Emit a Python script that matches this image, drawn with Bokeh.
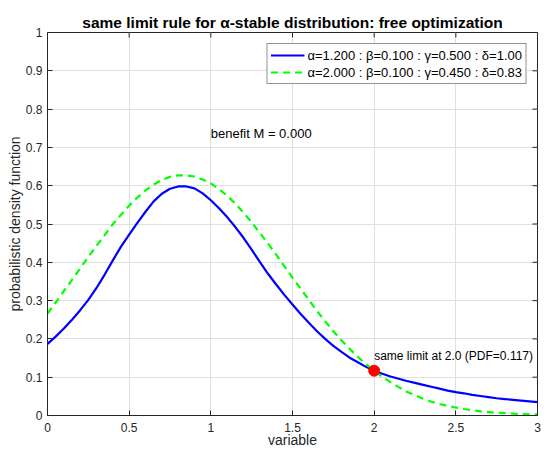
import math
from bokeh.plotting import figure
from bokeh.models import Range1d, FixedTicker, Label, Legend, LegendItem
from bokeh.embed import file_html
from bokeh.resources import INLINE

# sample positions along the variable axis
x_vals = [0.00, 0.05, 0.10, 0.15, 0.20, 0.25, 0.30, 0.35, 0.40, 0.45,
          0.50, 0.55, 0.60, 0.65, 0.70, 0.75, 0.80, 0.85, 0.90, 0.95,
          1.00, 1.05, 1.10, 1.15, 1.20, 1.25, 1.30, 1.35, 1.40, 1.45,
          1.50, 1.55, 1.60, 1.65, 1.70, 1.75, 1.80, 1.85, 1.90, 1.95,
          2.00, 2.05, 2.10, 2.15, 2.20, 2.25, 2.30, 2.35, 2.40, 2.45,
          2.50, 2.55, 2.60, 2.65, 2.70, 2.75, 2.80, 2.85, 2.90, 2.95, 3.00]

# alpha = 1.2 stable density
pdf_alpha12 = [0.187, 0.206, 0.227, 0.250, 0.275, 0.302, 0.333, 0.368, 0.405, 0.441,
               0.472, 0.503, 0.532, 0.559, 0.579, 0.592, 0.598, 0.598, 0.593, 0.580,
               0.562, 0.541, 0.518, 0.492, 0.464, 0.433, 0.401, 0.370, 0.342, 0.315,
               0.290, 0.265, 0.242, 0.220, 0.200, 0.182, 0.166, 0.151, 0.139, 0.127,
               0.117, 0.109, 0.102, 0.096, 0.090, 0.085, 0.080, 0.075, 0.070, 0.065,
               0.061, 0.058, 0.054, 0.051, 0.048, 0.045, 0.043, 0.041, 0.039, 0.037, 0.035]

# alpha = 2.0 stable (gaussian) density
pdf_alpha20 = [0.266, 0.295, 0.325, 0.354, 0.384, 0.414, 0.443, 0.471, 0.499, 0.524,
               0.548, 0.569, 0.588, 0.603, 0.615, 0.623, 0.627, 0.627, 0.624, 0.616,
               0.606, 0.591, 0.574, 0.553, 0.530, 0.504, 0.477, 0.449, 0.420, 0.390,
               0.360, 0.331, 0.302, 0.273, 0.246, 0.220, 0.196, 0.174, 0.153, 0.134,
               0.117, 0.101, 0.087, 0.074, 0.062, 0.053, 0.044, 0.036, 0.030, 0.025,
               0.021, 0.017, 0.014, 0.011, 0.009, 0.007, 0.006, 0.005, 0.004, 0.003, 0.003]

limit_x = 2.0
limit_pdf = 0.117
benefit = 0.000

legend_labels = ["\u03b1=1.200 : \u03b2=0.100 : \u03b3=0.500 : \u03b4=1.00",
                 "\u03b1=2.000 : \u03b2=0.100 : \u03b3=0.450 : \u03b4=0.83"]

x_ticks = [0, 0.5, 1, 1.5, 2, 2.5, 3]
x_tick_labels = ["0", "0.5", "1", "1.5", "2", "2.5", "3"]
y_ticks = [0, 0.1, 0.2, 0.3, 0.4, 0.5, 0.6, 0.7, 0.8, 0.9, 1]
y_tick_labels = ["0", "0.1", "0.2", "0.3", "0.4", "0.5", "0.6", "0.7", "0.8", "0.9", "1"]

FONT = "Liberation Sans"
AX_COLOR = "#262626"

p = figure(width=548, height=450, output_backend="svg", toolbar_location=None,
           x_range=Range1d(0, 3), y_range=Range1d(0, 1),
           min_border_left=47, min_border_right=11, min_border_top=32, min_border_bottom=30,
           x_axis_label="variable", y_axis_label="probabilistic density function")
p.background_fill_color = "white"
p.border_fill_color = "white"
p.outline_line_color = AX_COLOR
p.outline_line_width = 1

p.title.text = "same limit rule for \u03b1-stable distribution: free optimization"
p.title.align = "center"
p.title.text_font = FONT
p.title.text_font_size = "15.5px"
p.title.text_font_style = "bold"
p.title.text_color = "black"
p.title.standoff = 4

for ax, ticks, labels, standoff, label_standoff in ((p.xaxis[0], x_ticks, x_tick_labels, 7, -3),
                                                    (p.yaxis[0], y_ticks, y_tick_labels, 5, 0)):
    ax.ticker = FixedTicker(ticks=ticks)
    ax.major_label_overrides = {t: l for t, l in zip(ticks, labels)}
    ax.major_tick_in = 5
    ax.major_tick_out = 0
    ax.minor_tick_line_color = None
    ax.axis_line_color = AX_COLOR
    ax.major_tick_line_color = AX_COLOR
    ax.major_label_text_font = FONT
    ax.major_label_text_font_size = "12px"
    ax.major_label_text_color = AX_COLOR
    ax.major_label_standoff = standoff
    ax.axis_label_text_font = FONT
    ax.axis_label_text_font_size = "14px"
    ax.axis_label_text_font_style = "normal"
    ax.axis_label_text_color = AX_COLOR
    ax.axis_label_standoff = label_standoff

p.xgrid.ticker = FixedTicker(ticks=x_ticks)
p.ygrid.ticker = FixedTicker(ticks=y_ticks)
p.grid.grid_line_color = "#dfdfdf"
p.grid.grid_line_width = 1

# inward tick marks along the top and right edges of the box
p.ray(x=x_ticks, y=[1] * len(x_ticks), length=5, length_units="screen",
      angle=-math.pi / 2, line_color=AX_COLOR, line_width=1)
p.ray(x=[3] * len(y_ticks), y=y_ticks, length=5, length_units="screen",
      angle=math.pi, line_color=AX_COLOR, line_width=1)

r1 = p.line(x_vals, pdf_alpha12, line_color="#0000ff", line_width=2.2)
r2 = p.line(x_vals, pdf_alpha20, line_color="#00ff00", line_width=2.2, line_dash="7 5")
p.scatter([limit_x], [limit_pdf], size=11, color="#ff0000")

p.add_layout(Label(x=limit_x, y=limit_pdf + 0.039,
                   text=f"same limit at {limit_x:.1f} (PDF={limit_pdf:.3f})",
                   text_font=FONT, text_font_size="12px", text_color="black",
                   text_baseline="alphabetic", level="overlay"))
p.add_layout(Label(x=1.0, y=0.735, text=f"benefit M = {benefit:.3f}",
                   text_font=FONT, text_font_size="13px", text_color="black",
                   text_baseline="alphabetic", level="overlay"))

legend = Legend(items=[LegendItem(label=legend_labels[0], renderers=[r1]),
                       LegendItem(label=legend_labels[1], renderers=[r2])],
                location="top_right", margin=11, padding=3, spacing=1,
                label_text_font=FONT, label_text_font_size="13px", label_text_color="black",
                label_height=16, glyph_height=16, glyph_width=34, label_standoff=3,
                border_line_color=AX_COLOR, border_line_width=1,
                background_fill_color="white", background_fill_alpha=1)
p.add_layout(legend)

open("out.html", "w").write(file_html(p, INLINE))
